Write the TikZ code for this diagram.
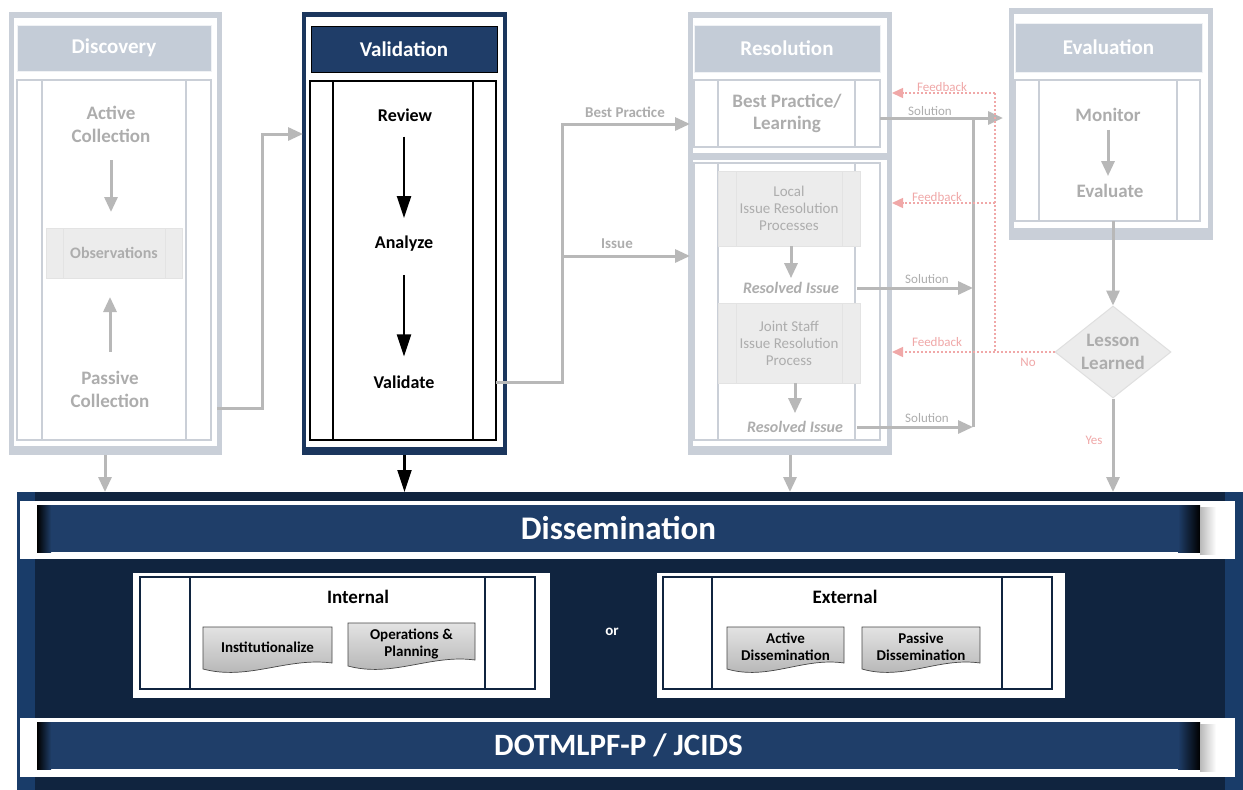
\documentclass[tikz,border=0pt]{standalone}
\usepackage{fontspec}
\setmainfont{Carlito}
\usetikzlibrary{arrows.meta,shapes.geometric,calc}

\definecolor{framegray}{HTML}{C9CFD8}
\definecolor{headgray}{HTML}{C4CCD7}
\definecolor{linegray}{HTML}{CACFD7}
\definecolor{textgray}{HTML}{ADADAD}
\definecolor{arrowgray}{HTML}{B8B8B8}
\definecolor{fbpink}{HTML}{F0A8A8}
\definecolor{valnavy}{HTML}{1B365D}
\definecolor{headnavy}{HTML}{1F3D68}
\definecolor{deepnavy}{HTML}{10243F}
\definecolor{sidenavy}{HTML}{193C69}
\definecolor{barnavy}{HTML}{1F3E69}
\definecolor{boxgray}{HTML}{ECECEC}

\newcommand{\fntsz}[2]{\fontsize{#1}{#2}\selectfont}
% two lane lines inside a box
\newcommand{\lanes}[4]{%
  \draw[#4] ([xshift=#2pt]#1.north west) -- ([xshift=#2pt]#1.south west)
            ([xshift=-#3pt]#1.north east) -- ([xshift=-#3pt]#1.south east);}
% document shape behind a node
\newcommand{\docshape}[1]{%
  \shade[top color=gray!22, bottom color=gray!62, draw=gray!55!black, line width=0.7pt]
    (#1.north west) -- (#1.north east) -- ([yshift=10pt]#1.south east)
    .. controls ($(#1.south east)!0.35!(#1.south west)+(0,16pt)$)
           and ($(#1.south east)!0.65!(#1.south west)+(0,-8pt)$) .. ([yshift=4pt]#1.south west)
    -- cycle;}
% dark ends of a banner
\newcommand{\barends}[1]{%
  \shade[left color=black, right color=barnavy] (#1.north west) rectangle ([xshift=14pt]#1.south west);
  \shade[left color=barnavy, right color=black] ([xshift=-22pt]#1.north east) rectangle (#1.south east);
  \shade[left color=gray!55, right color=white] ([yshift=-2pt]#1.north east) rectangle ([xshift=16pt,yshift=-2pt]#1.south east);}

\begin{document}
\begin{tikzpicture}[x=1pt, y=-1pt,
    box/.style={rectangle, anchor=north west, inner sep=0pt, outer sep=0pt},
    grayframe/.style={box, fill=framegray},
    whitepane/.style={box, fill=white},
    grayhead/.style={box, fill=headgray, draw=white!75!headgray, text=white, font=\bfseries\fntsz{21}{21}},
    graybody/.style={box, fill=white, draw=linegray, line width=1.5pt},
    graystep/.style={box, fill=boxgray, draw=gray!22, line width=1pt, text=textgray, align=center, font=\fntsz{15}{17}},
    fadetxt/.style={text=textgray, font=\bfseries\fntsz{19}{23}, align=center, inner sep=2pt},
    restxt/.style={text=textgray, font=\bfseries\itshape\fntsz{16}{16}, inner sep=2pt},
    vtxt/.style={font=\bfseries\fntsz{18}{18}, inner sep=2pt},
    lbl/.style={text=textgray, font=\bfseries\fntsz{15}{15}, inner sep=1pt},
    sollbl/.style={text=textgray, font=\fntsz{13}{13}, inner sep=1pt},
    fblbl/.style={text=fbpink, font=\fntsz{13}{13}, inner sep=1pt},
    navybar/.style={box, fill=barnavy, text=white, font=\bfseries\fntsz{33}{33}},
    dtitle/.style={font=\bfseries\fntsz{19}{19}, inner sep=2pt},
    docbox/.style={box},
    doctxt/.style={font=\bfseries\fntsz{15}{17}, align=center, inner sep=1pt},
    lesson/.style={diamond, aspect=1.26, minimum width=116pt, minimum height=92pt, inner sep=0pt,
        fill=boxgray, draw=gray!25, line width=1pt, text=textgray, font=\bfseries\fntsz{19}{23}, align=center},
    grayline/.style={draw=arrowgray, line width=3pt},
    grayarrow/.style={grayline, -{Triangle[length=15pt,width=13pt]}},
    blkarrow/.style={draw=black, line width=2.2pt, -{Triangle[length=22pt,width=14pt]}},
    fbline/.style={draw=fbpink, line width=1.5pt, dash pattern=on 2pt off 2pt},
    fbarrow/.style={fbline, -{Triangle[length=11pt,width=10pt]}}]

    \fill[white] (0,0) rectangle (1243,790);
    \useasboundingbox (0,0) rectangle (1243,790);

    % Discovery column
    \node[grayframe, minimum width=213pt, minimum height=443pt] (discframe) at (9,12) {};
    \node[whitepane, minimum width=203pt, minimum height=428pt] (discpane) at (14,18) {};
    \node[grayhead, minimum width=194pt, minimum height=46pt] (dischead) at (17,25) {Discovery};
    \node[graybody, minimum width=194pt, minimum height=360pt] (discbody) at (17,80) {};
    \lanes{discbody}{25}{25}{linegray, line width=1.5pt}
    \node[fadetxt] (active) at (111,124) {Active\\Collection};
    \node[graystep, font=\bfseries\fntsz{16}{16}, minimum width=136pt, minimum height=50pt] (obs) at (46,228) {Observations};
    \lanes{obs}{17}{17}{gray!22, line width=1pt}
    \node[fadetxt] (passive) at (110,389) {Passive\\Collection};

    % Validation column
    \node[box, fill=valnavy, minimum width=205pt, minimum height=443pt] (valframe) at (302,12) {};
    \node[whitepane, minimum width=197pt, minimum height=430pt] (valpane) at (306,17) {};
    \node[box, fill=headnavy, draw=black, line width=1pt, text=white, font=\bfseries\fntsz{21}{21},
        minimum width=186pt, minimum height=46pt] (valhead) at (311,26) {Validation};
    \node[box, fill=white, draw=black, line width=1.5pt, minimum width=186pt, minimum height=359pt] (valbody) at (310,81) {};
    \lanes{valbody}{23}{23}{black, line width=1.5pt}
    \node[vtxt] (review) at (405,115) {Review};
    \node[vtxt] (analyze) at (404,244) {Analyze};
    \node[vtxt] (validate) at (404,382) {Validate};

    % Resolution column
    \node[grayframe, minimum width=204pt, minimum height=443pt] (resframe) at (688,12) {};
    \node[whitepane, minimum width=194pt, minimum height=135pt] (respane) at (693,18) {};
    \node[whitepane, minimum width=194pt, minimum height=286pt] (issuepane) at (693,160) {};
    \node[grayhead, minimum width=186pt, minimum height=47pt] (reshead) at (694,25) {Resolution};
    \node[graybody, minimum width=186pt, minimum height=67pt, text=textgray, align=center,
        font=\bfseries\fntsz{19}{22}] (bpbody) at (694,80) {Best Practice/\\Learning};
    \lanes{bpbody}{24}{25}{linegray, line width=1.5pt}
    \node[graybody, minimum width=186pt, minimum height=277pt] (issuebody) at (694,163) {};
    \lanes{issuebody}{24}{25}{linegray, line width=1.5pt}
    \node[graystep, minimum width=142pt, minimum height=75pt] (local) at (718,171) {Local\\Issue Resolution\\Processes};
    \lanes{local}{18}{18}{gray!22, line width=1pt}
    \node[restxt] (res1) at (791,288) {Resolved Issue};
    \node[graystep, minimum width=142pt, minimum height=80pt] (joint) at (718,303) {Joint Staff\\Issue Resolution\\Process};
    \lanes{joint}{18}{18}{gray!22, line width=1pt}
    \node[restxt] (res2) at (795,427) {Resolved Issue};

    % Evaluation column
    \node[grayframe, minimum width=204pt, minimum height=232pt] (evalframe) at (1009,8) {};
    \node[whitepane, minimum width=194pt, minimum height=214pt] (evalpane) at (1014,14) {};
    \node[grayhead, minimum width=187pt, minimum height=49pt] (evalhead) at (1015,23) {Evaluation};
    \node[graybody, minimum width=185pt, minimum height=141pt] (evalbody) at (1015,80) {};
    \lanes{evalbody}{24}{23}{linegray, line width=1.5pt}
    \node[fadetxt] (monitor) at (1108,115) {Monitor};
    \node[fadetxt] (evaluate) at (1110,191) {Evaluate};
    \node[lesson] (learned) at (1113,352) {Lesson\\Learned};

    % Dissemination block
    \node[box, fill=deepnavy, minimum width=1226pt, minimum height=298pt] (dissframe) at (17,492) {};
    \fill[sidenavy] (dissframe.north west) rectangle ([xshift=18pt]dissframe.south west);
    \fill[sidenavy] ([xshift=-18pt]dissframe.north east) rectangle (dissframe.south east);
    \node[whitepane, minimum width=1215pt, minimum height=58pt] (dissband) at (20,501) {};
    \node[navybar, minimum width=1163pt, minimum height=47pt] (dissbar) at (37,505) {Dissemination};
    \barends{dissbar}

    \node[whitepane, minimum width=417pt, minimum height=125pt] (intpane) at (133,573) {};
    \node[box, fill=white, draw=deepnavy, line width=2.5pt, minimum width=395pt, minimum height=112pt] (intbox) at (140,577) {};
    \lanes{intbox}{50}{50}{deepnavy, line width=2.5pt}
    \node[dtitle] (intlbl) at (358,597) {Internal};
    \node[docbox, minimum width=129pt, minimum height=46pt] (inst) at (203,627) {};
    \docshape{inst}
    \node[doctxt] (insttxt) at ([yshift=3pt]inst.center) {Institutionalize};
    \node[docbox, minimum width=127pt, minimum height=47pt] (ops) at (348,623) {};
    \docshape{ops}
    \node[doctxt] (opstxt) at ([yshift=3pt]ops.center) {Operations \&\\Planning};

    \node[font=\bfseries\fntsz{15}{15}, text=white] (ortxt) at (612,632) {or};

    \node[whitepane, minimum width=408pt, minimum height=125pt] (extpane) at (657,573) {};
    \node[box, fill=white, draw=deepnavy, line width=2.5pt, minimum width=389pt, minimum height=112pt] (extbox) at (663,577) {};
    \lanes{extbox}{49}{50}{deepnavy, line width=2.5pt}
    \node[dtitle] (extlbl) at (845,597) {External};
    \node[docbox, minimum width=117pt, minimum height=46pt] (actdis) at (727,627) {};
    \docshape{actdis}
    \node[doctxt] (actdistxt) at ([yshift=3pt]actdis.center) {Active\\Dissemination};
    \node[docbox, minimum width=118pt, minimum height=46pt] (pasdis) at (862,627) {};
    \docshape{pasdis}
    \node[doctxt] (pasdistxt) at ([yshift=3pt]pasdis.center) {Passive\\Dissemination};

    \node[whitepane, minimum width=1215pt, minimum height=59pt] (dotband) at (20,718) {};
    \node[navybar, font=\bfseries\fntsz{31}{31}, minimum width=1163pt, minimum height=47pt] (dotbar) at (37,722) {DOTMLPF-P / JCIDS};
    \barends{dotbar}

    % Edges inside the columns
    \draw[grayarrow, shorten <=16pt, shorten >=16pt] (active.south) -- (active.south |- obs.north);
    \draw[grayarrow, shorten <=17pt, shorten >=19pt] (passive.north) -- (passive.north |- obs.south);
    \draw[blkarrow, shorten <=13pt, shorten >=16pt] (analyze.north |- review.south) -- (analyze.north);
    \draw[blkarrow, shorten <=21pt, shorten >=17pt] (analyze.south) -- (analyze.south |- validate.north);
    \draw[grayarrow, shorten >=2pt] (local.south -| res1) -- (res1.north);
    \draw[grayarrow, shorten >=6pt] (joint.south -| res2) -- (res2.north);
    \draw[grayarrow, shorten <=6pt, shorten >=6pt] (monitor.south) -- (monitor.south |- evaluate.north);

    % Edges between the columns
    \coordinate (discout) at (217,408);
    \coordinate (valin) at (303,134);
    \draw[grayarrow] (discout) -- ++(45,0) |- (valin);

    \coordinate (fork) at (562,124);
    \coordinate (bpin) at (690,124);
    \coordinate (issin) at (690,256);
    \draw[grayarrow] (valbody.east |- validate) -| (fork) -- (bpin);
    \draw[grayarrow] (fork |- issin) -- (issin);
    \node[lbl] (bplbl) at (625,112) {Best Practice};
    \node[lbl] (isslbl) at (617,244) {Issue};

    \coordinate (solin) at (1003,118);
    \coordinate (bus) at (973,118);
    \draw[grayarrow] (bpbody.east |- solin) -- (solin);
    \draw[grayline] (bus) -- (bus |- res2);
    \draw[grayarrow] ($(issuebody.east |- res1)+(-23pt,0)$) -- (bus |- res1);
    \draw[grayarrow] ($(issuebody.east |- res2)+(-23pt,0)$) -- (bus |- res2);
    \node[sollbl] (sol1) at (930,111) {Solution};
    \node[sollbl] (sol2) at (927,279) {Solution};
    \node[sollbl] (sol3) at (927,418) {Solution};

    \coordinate (fbtop) at (995,93);
    \coordinate (fbmid) at (995,203);
    \draw[fbline] (fbtop) -- (fbtop |- learned);
    \draw[fbarrow] (fbtop) -- (resframe.east |- fbtop);
    \draw[fbarrow] (fbmid) -- (resframe.east |- fbmid);
    \draw[fbarrow] (learned.west) -- (resframe.east |- learned);
    \node[fblbl] (fb1) at (942,87) {Feedback};
    \node[fblbl] (fb2) at (937,197) {Feedback};
    \node[fblbl] (fb3) at (937,342) {Feedback};
    \node[fblbl] (nolbl) at (1028,362) {No};

    \draw[grayarrow] (learned |- evalbody.south) -- (learned.north);
    \draw[grayarrow] (learned.south) -- (learned |- dissframe.north);
    \node[fblbl] (yeslbl) at (1094,440) {Yes};

    % Edges down to Dissemination
    \coordinate (discdown) at (105,455);
    \draw[grayarrow] (discdown) -- (discdown |- dissframe.north);
    \draw[blkarrow] (valframe.south) -- (valframe.south |- dissframe.north);
    \draw[grayarrow] (resframe.south) -- (resframe.south |- dissframe.north);
\end{tikzpicture}
\end{document}
